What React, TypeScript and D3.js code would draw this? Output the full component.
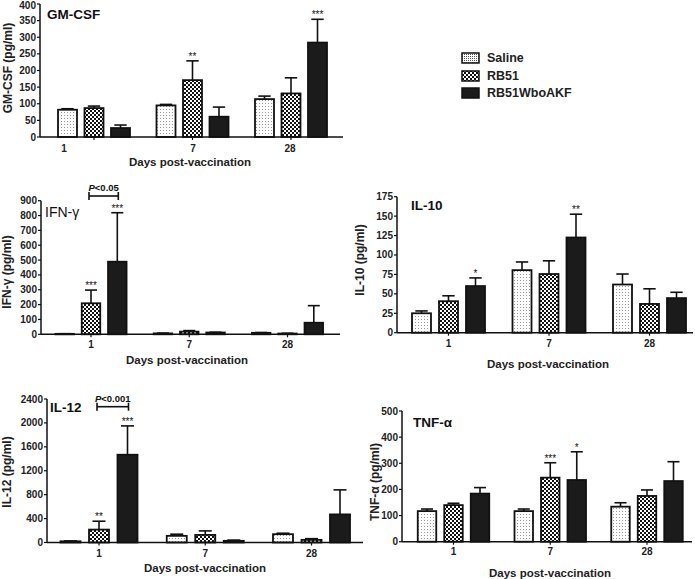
import React from 'react';
import * as d3 from 'd3';

const days = ['1', '7', '28'];
const seriesNames = ['Saline', 'RB51', 'RB51WboAKF'];

// GM-CSF
const gmSaline = [82, 95, 114];
const gmSalineSem = [3, 3, 9];
const gmRB51 = [87, 171, 131];
const gmRB51Sem = [6, 58, 47];
const gmAKF = [27, 61, 284];
const gmAKFSem = [9, 29, 70];
const gmSig = [['', '', ''], ['', '**', ''], ['', '', '***']];
const gmTicks = [0, 50, 100, 150, 200, 250, 300, 350, 400];

// IFN-gamma
const ifnSaline = [3, 6, 10];
const ifnSalineSem = [1, 2, 2];
const ifnRB51 = [209, 18, 5];
const ifnRB51Sem = [89, 7, 2];
const ifnAKF = [489, 12, 78];
const ifnAKFSem = [330, 2, 115];
const ifnSig = [['', '', ''], ['***', '', ''], ['***', '', '']];
const ifnTicks = [0, 100, 200, 300, 400, 500, 600, 700, 800, 900];

// IL-10
const il10Saline = [25, 80.5, 62];
const il10SalineSem = [3, 10.5, 13.5];
const il10RB51 = [40.5, 75.5, 37];
const il10RB51Sem = [7, 17, 19.5];
const il10AKF = [60, 122.5, 44.5];
const il10AKFSem = [10.5, 30, 7.5];
const il10Sig = [['', '', ''], ['', '', ''], ['*', '**', '']];
const il10Ticks = [0, 25, 50, 75, 100, 125, 150, 175];

// IL-12
const il12Saline = [20, 111, 139];
const il12SalineSem = [6, 28, 16];
const il12RB51 = [216, 127, 44];
const il12RB51Sem = [140, 67, 20];
const il12AKF = [1468, 28, 470];
const il12AKFSem = [482, 12, 410];
const il12Sig = [['', '', ''], ['**', '', ''], ['***', '', '']];
const il12Ticks = [0, 400, 800, 1200, 1600, 2000, 2400];

// TNF-alpha
const tnfSaline = [117, 117, 134];
const tnfSalineSem = [8, 8, 15];
const tnfRB51 = [140, 245, 175];
const tnfRB51Sem = [7, 57, 23];
const tnfAKF = [184, 236, 232];
const tnfAKFSem = [23, 108, 74];
const tnfSig = [['', '', ''], ['', '***', ''], ['', '*', '']];
const tnfTicks = [0, 100, 200, 300, 400, 500];

const FONT = '"Liberation Sans", Arial, sans-serif';
const fills = ['url(#salinePat)', 'url(#checkPat)', '#1b1b1b'];

type PanelProps = {
  means: number[][];
  sems: number[][];
  sig: string[][];
  ticks: number[];
  x0: number; x1: number; y0: number; yTop: number;
  c1: number; c3: number; pitch: number; barW: number;
  title: React.ReactNode; titleX: number; titleY: number;
  ylabel: string; ylabelX: number; ylabelY: number;
  xlabelX: number; xlabelDy: number; tickLabelDy: number;
  labelX?: number[];
  bracket?: { text: string; y: number };
};

function Panel(p: PanelProps) {
  const yMax = p.ticks[p.ticks.length - 1];
  const y = d3.scaleLinear().domain([0, yMax]).range([p.y0, p.yTop]);
  const gx = d3.scalePoint<string>().domain(days).range([p.c1, p.c3]);
  const sx = d3.scalePoint<string>().domain(seriesNames).range([-p.pitch, p.pitch]);
  const capW = p.barW * 0.65;
  let bracketEl = null;
  if (p.bracket) {
    const bx1 = (gx('1') as number) + (sx('RB51') as number) - 2;
    const bx2 = (gx('1') as number) + (sx('RB51WboAKF') as number) + 1;
    const by = p.bracket.y;
    bracketEl = (
      <g>
        <line x1={bx1} x2={bx2} y1={by} y2={by} stroke="#111" strokeWidth={1.6} />
        <line x1={bx1} x2={bx1} y1={by - 4} y2={by + 4} stroke="#111" strokeWidth={1.6} />
        <line x1={bx2} x2={bx2} y1={by - 4} y2={by + 4} stroke="#111" strokeWidth={1.6} />
        <text x={(bx1 + bx2) / 2} y={by - 5} textAnchor="middle" fontSize={9.5} fontWeight="bold" fontFamily={FONT} fill="#111">
          <tspan fontStyle="italic">P</tspan>{p.bracket.text}
        </text>
      </g>
    );
  }
  return (
    <g>
      {seriesNames.map((s, si) =>
        days.map((d, di) => {
          const cx = (gx(d) as number) + (sx(s) as number);
          const v = p.means[si][di];
          const e = v + p.sems[si][di];
          const yt = y(v);
          const ye = y(e);
          return (
            <g key={s + d}>
              <line x1={cx} x2={cx} y1={yt} y2={ye} stroke="#111" strokeWidth={1.6} />
              <line x1={cx - capW / 2} x2={cx + capW / 2} y1={ye} y2={ye} stroke="#111" strokeWidth={1.6} />
              <rect x={cx - p.barW / 2} y={yt} width={p.barW} height={Math.max(p.y0 - yt, 0.5)}
                fill={fills[si]} stroke="#111" strokeWidth={1.8} />
              {p.sig[si][di] && (
                <text x={cx} y={ye - 1} textAnchor="middle" fontSize={10} fontFamily={FONT} fill="#111">
                  {p.sig[si][di]}
                </text>
              )}
            </g>
          );
        })
      )}
      <line x1={p.x0} x2={p.x0} y1={p.yTop} y2={p.y0} stroke="#111" strokeWidth={1.5} />
      {p.ticks.map((t) => (
        <g key={t}>
          <line x1={p.x0 - 3} x2={p.x0} y1={y(t)} y2={y(t)} stroke="#111" strokeWidth={1.2} />
          <text x={p.x0 - 4} y={Math.max(y(t), 5)} dy="0.35em" textAnchor="end" fontSize={10} fontWeight="bold" fontFamily={FONT} fill="#222">
            {t}
          </text>
        </g>
      ))}
      <line x1={p.x0} x2={p.x1} y1={p.y0} y2={p.y0} stroke="#111" strokeWidth={1.5} />
      {days.map((d, i) => (
        <g key={d}>
          <line x1={gx(d)} x2={gx(d)} y1={p.y0} y2={p.y0 + 3} stroke="#111" strokeWidth={1.2} />
          <text x={p.labelX ? p.labelX[i] : gx(d)} y={p.y0 + p.tickLabelDy} textAnchor="middle" fontSize={10} fontWeight="bold" fontFamily={FONT} fill="#222">
            {d}
          </text>
        </g>
      ))}
      <text x={p.xlabelX} y={p.y0 + p.xlabelDy} textAnchor="middle" fontSize={11.5} fontWeight="bold" fontFamily={FONT} fill="#222">
        Days post-vaccination
      </text>
      <text transform={`translate(${p.ylabelX},${p.ylabelY}) rotate(-90)`} textAnchor="middle" dy="0.35em"
        fontSize={12} fontWeight="bold" fontFamily={FONT} fill="#222">
        {p.ylabel}
      </text>
      <text x={p.titleX} y={p.titleY} fontSize={13.5} fontWeight="bold" fontFamily={FONT} fill="#111">
        {p.title}
      </text>
      {bracketEl}
    </g>
  );
}

export default function App() {
  return (
    <svg width={695} height={579} style={{ position: 'absolute', left: 0, top: 0, background: '#fff' }}>
      <defs>
        <pattern id="salinePat" patternUnits="userSpaceOnUse" width={3} height={3}>
          <rect width={3} height={3} fill="#fff" />
          <rect x={1} y={1} width={1} height={1} fill="#9a9a9a" />
        </pattern>
        <pattern id="checkPat" patternUnits="userSpaceOnUse" width={4} height={4}>
          <rect width={4} height={4} fill="#fff" />
          <rect x={0} y={0} width={2} height={2} fill="#111" />
          <rect x={2} y={2} width={2} height={2} fill="#111" />
        </pattern>
        <pattern id="salineLeg" patternUnits="userSpaceOnUse" width={2} height={2}>
          <rect width={2} height={2} fill="#fff" />
          <rect x={0} y={0} width={1} height={1} fill="#555" />
        </pattern>
      </defs>
      <rect width={695} height={579} fill="#fff" />

      <Panel
        means={[gmSaline, gmRB51, gmAKF]} sems={[gmSalineSem, gmRB51Sem, gmAKFSem]} sig={gmSig} ticks={gmTicks}
        x0={40} x1={343} y0={137} yTop={4} c1={94} c3={291} pitch={26.5} barW={19}
        title="GM-CSF" titleX={47} titleY={19}
        ylabel="GM-CSF (pg/ml)" ylabelX={8} ylabelY={68}
        xlabelX={190} xlabelDy={29} tickLabelDy={15} labelX={[64, 193, 290]}
      />
      <Panel
        means={[ifnSaline, ifnRB51, ifnAKF]} sems={[ifnSalineSem, ifnRB51Sem, ifnAKFSem]} sig={ifnSig} ticks={ifnTicks}
        x0={41} x1={340} y0={334.3} yTop={200.7} c1={91} c3={287.5} pitch={26.3} barW={18.5}
        title={<tspan fontWeight="normal" fontSize={14}>IFN-γ</tspan>} titleX={45} titleY={217}
        ylabel="IFN-γ (pg/ml)" ylabelX={7} ylabelY={272}
        xlabelX={187} xlabelDy={30} tickLabelDy={14}
        bracket={{ text: '<0.05', y: 196 }}
      />
      <Panel
        means={[il10Saline, il10RB51, il10AKF]} sems={[il10SalineSem, il10RB51Sem, il10AKFSem]} sig={il10Sig} ticks={il10Ticks}
        x0={397} x1={693} y0={332.7} yTop={196.7} c1={448.5} c3={649.5} pitch={27} barW={19}
        title="IL-10" titleX={411} titleY={210}
        ylabel="IL-10  (pg/ml)" ylabelX={360} ylabelY={260}
        xlabelX={548} xlabelDy={35} tickLabelDy={14}
      />
      <Panel
        means={[il12Saline, il12RB51, il12AKF]} sems={[il12SalineSem, il12RB51Sem, il12AKFSem]} sig={il12Sig} ticks={il12Ticks}
        x0={47} x1={363} y0={542.5} yTop={399} c1={99} c3={311.5} pitch={28.5} barW={20}
        title="IL-12" titleX={50} titleY={412}
        ylabel="IL-12 (pg/ml)" ylabelX={7} ylabelY={472}
        xlabelX={205} xlabelDy={29.5} tickLabelDy={14}
        bracket={{ text: '<0.001', y: 406.7 }}
      />
      <Panel
        means={[tnfSaline, tnfRB51, tnfAKF]} sems={[tnfSalineSem, tnfRB51Sem, tnfAKFSem]} sig={tnfSig} ticks={tnfTicks}
        x0={402} x1={692} y0={541.7} yTop={411} c1={453.5} c3={647} pitch={26.5} barW={18.5}
        title="TNF-α" titleX={413} titleY={427}
        ylabel="TNF-α (pg/ml)" ylabelX={375} ylabelY={482}
        xlabelX={550} xlabelDy={35} tickLabelDy={13}
      />

      {seriesNames.map((s, i) => {
        const ly = [58, 76, 93][i];
        return (
          <g key={s}>
            <rect x={462} y={ly - 5} width={17} height={10} fill={i === 0 ? 'url(#salineLeg)' : fills[i]} stroke="#111" strokeWidth={1.5} />
            <text x={487} y={ly} dy="0.35em" fontSize={12.5} fontWeight="bold" fontFamily={FONT} fill="#222">{s}</text>
          </g>
        );
      })}
    </svg>
  );
}
